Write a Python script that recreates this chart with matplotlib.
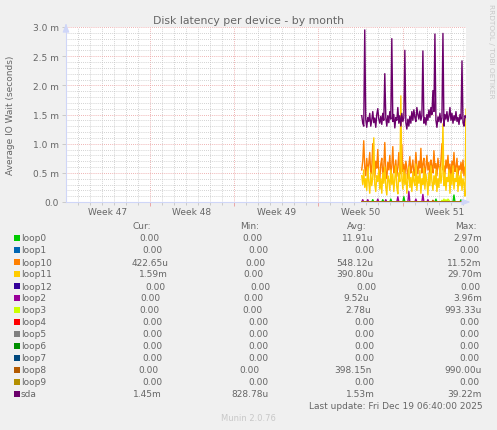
import numpy as np
import matplotlib
matplotlib.use("Agg")
import matplotlib.pyplot as plt
from matplotlib.ticker import FixedLocator, FuncFormatter
from matplotlib.transforms import blended_transform_factory

plt.rcParams['font.family'] = ['DejaVu Sans']

W, H = 497, 431

# --- data (milliseconds, one sample per 2 hours, last sample = last update) ---
sda = [1.48, 1.35, 1.30, 2.95, 1.42, 1.28, 1.45, 1.38, 1.52, 1.30,
       1.40, 1.55, 1.36, 1.44, 1.28, 1.50, 1.60, 1.42, 1.35, 1.47,
       1.33, 1.52, 1.40, 2.20, 1.45, 1.30, 1.48, 1.36, 1.55, 1.42,
       2.80, 1.38, 1.50, 1.27, 1.45, 1.40, 1.62, 1.35, 1.48, 1.30,
       1.52, 1.38, 1.44, 2.60, 1.36, 1.25, 1.42, 1.30, 1.47, 1.35,
       1.55, 1.40, 1.58, 1.45, 1.38, 1.62, 1.50, 1.42, 1.56, 1.40,
       1.48, 2.59, 1.35, 1.45, 1.32, 1.50, 1.40, 1.58, 1.45, 1.62,
       1.50, 1.91, 1.55, 2.88, 1.40, 1.28, 1.46, 1.38, 1.52, 1.36,
       1.44, 2.89, 1.30, 1.50, 1.42, 1.55, 1.38, 1.47, 1.62, 1.40,
       1.52, 1.35, 1.48, 1.40, 1.55, 1.38, 1.45, 1.33, 1.50, 1.42,
       2.42, 1.36, 1.30, 1.48, 1.45]

loop10 = [0.55, 0.70, 1.05, 0.60, 0.45, 0.75, 0.50, 0.65, 0.85, 0.48,
          0.60, 1.00, 0.55, 0.42, 0.70, 0.58, 0.90, 0.50, 0.38, 0.65,
          0.75, 0.45, 0.60, 1.02, 0.52, 0.40, 0.68, 0.55, 0.80, 0.47,
          0.62, 0.95, 0.50, 0.58, 0.72, 0.44, 0.60, 0.85, 0.48, 0.55,
          0.98, 0.52, 0.65, 0.45, 0.70, 0.58, 0.40, 0.62, 0.78, 0.50,
          0.60, 0.72, 0.45, 0.55, 0.85, 0.62, 0.48, 0.70, 0.58, 0.92,
          0.50, 0.65, 0.75, 0.45, 0.60, 0.80, 0.55, 0.68, 0.42, 0.72,
          0.62, 0.50, 0.88, 0.58, 0.66, 0.45, 0.75, 0.60, 0.52, 0.70,
          1.00, 0.55, 0.62, 0.48, 0.72, 0.58, 0.80, 0.50, 0.65, 0.42,
          0.70, 0.58, 0.85, 0.52, 0.60, 0.75, 0.45, 0.62, 0.55, 0.68,
          0.50, 0.72, 0.45, 0.60, 0.42]

loop11 = [0.45, 0.30, 0.55, 0.25, 0.40, 0.20, 0.60, 0.35, 0.15, 0.50,
          0.28, 0.42, 1.10, 0.30, 0.18, 0.45, 0.35, 0.55, 0.22, 0.40,
          0.15, 0.50, 0.32, 0.60, 0.25, 0.12, 0.45, 0.38, 0.20, 0.55,
          0.30, 0.48, 0.18, 0.40, 0.62, 0.25, 0.14, 0.50, 0.35, 1.82,
          0.40, 0.22, 0.55, 0.30, 0.48, 0.15, 0.38, 0.60, 0.25, 0.42,
          0.18, 0.52, 0.35, 0.28, 0.65, 0.20, 0.45, 0.32, 0.55, 0.15,
          0.40, 0.30, 0.58, 0.22, 0.48, 0.35, 0.12, 0.50, 0.28, 0.62,
          0.35, 0.20, 0.45, 0.30, 0.55, 0.18, 0.40, 0.25, 0.60, 0.32,
          0.45, 1.34, 0.28, 0.50, 0.20, 0.42, 0.35, 0.55, 0.15, 0.48,
          0.30, 0.62, 0.22, 0.40, 0.35, 0.58, 0.18, 0.45, 0.28, 0.52,
          0.20, 0.40, 0.30, 0.10, 1.59]

# sparse blips of the nearly idle devices: sample index -> value
loop0_idx = [11, 21, 29, 42, 74, 92, 99]
loop0_val = [0.04, 0.04, 0.05, 0.09, 0.05, 0.12, 0.04]
loop2_idx = [1, 6, 16, 24, 36, 47, 54, 61, 66]
loop2_val = [0.04, 0.04, 0.05, 0.04, 0.09, 0.18, 0.05, 0.13, 0.04]
loop3_idx = [80, 82, 84, 86, 87]
loop3_val = [0.03, 0.05, 0.04, 0.05, 0.03]
loop8_idx = [71]
loop8_val = [0.03]

n = len(sda)
step_days = 1 / 12
t = (np.arange(n) - (n - 1)) * step_days   # days before last update


def sparse(idx, val):
    s = np.zeros(n)
    s[idx] = val
    return s


idle = np.zeros(n)
series = {
    'loop0': sparse(loop0_idx, loop0_val),
    'loop1': idle,
    'loop10': np.array(loop10),
    'loop11': np.array(loop11),
    'loop12': idle,
    'loop2': sparse(loop2_idx, loop2_val),
    'loop3': sparse(loop3_idx, loop3_val),
    'loop4': idle,
    'loop5': idle,
    'loop6': idle,
    'loop7': idle,
    'loop8': sparse(loop8_idx, loop8_val),
    'loop9': idle,
    'sda': np.array(sda),
}
names = list(series.keys())
colors = ['#00CC00', '#0066B3', '#FF8000', '#FFCC00', '#330099', '#990099', '#CCFF00',
          '#FF0000', '#808080', '#008F00', '#00487D', '#B35A00', '#B38F00', '#6B006B']

cur = ['0.00', '0.00', '422.65u', '1.59m', '0.00', '0.00', '0.00', '0.00', '0.00',
       '0.00', '0.00', '0.00', '0.00', '1.45m']
mins = ['0.00'] * 13 + ['828.78u']
avg = ['11.91u', '0.00', '548.12u', '390.80u', '0.00', '9.52u', '2.78u', '0.00', '0.00',
       '0.00', '0.00', '398.15n', '0.00', '1.53m']
maxs = ['2.97m', '0.00', '11.52m', '29.70m', '0.00', '3.96m', '993.33u', '0.00', '0.00',
        '0.00', '0.00', '990.00u', '0.00', '39.22m']

weeks = ['Week 47', 'Week 48', 'Week 49', 'Week 50', 'Week 51']
# Sundays 00:00 relative to Fri Dec 19 06:40
week_lines = [-26.278, -19.278, -12.278, -5.278]
last_midnight = -0.278

# --- layout (pixel columns for the justified rrdtool legend) ---
cur_x = [139.3, 142.7, 131.7, 139, 145, 140.3, 139.3, 142.7, 142.7, 142.7, 142.7, 138.3, 142.7, 132.7]
min_x = [242, 248.3, 245, 243.3, 250, 243.3, 242.3, 248.3, 248.3, 248.3, 248.3, 239.3, 248.3, 231]
avg_x = [341.7, 354, 336.7, 336, 356, 343.3, 345, 354, 354, 354, 354, 334.3, 354, 346]
max_x = [453.3, 459.3, 446.7, 447.7, 460, 453.3, 444.3, 459.3, 459.3, 459.3, 459.3, 444.3, 459.3, 447.7]

FONT = '#666666'
fig = plt.figure(figsize=(W / 100, H / 100), dpi=100)
fig.patch.set_facecolor('#F0F0F0')


def fx(x):
    return x / W


def fy(y):
    return 1 - y / H


ax = fig.add_axes([fx(66), fy(203), 400 / W, 175 / H])
ax.set_facecolor('white')

for name, c in zip(names, colors):
    ax.plot(t, series[name], color=c, lw=1.0, zorder=3)

xmin = -33.25
ax.set_xlim(xmin, 0)
ax.set_ylim(0, 3.0)

days = np.arange(last_midnight, xmin, -1.0)
ax.xaxis.set_major_locator(FixedLocator(week_lines))
ax.xaxis.set_minor_locator(FixedLocator(days))
ax.yaxis.set_major_locator(FixedLocator(np.arange(0, 3.01, 0.5)))
ax.yaxis.set_minor_locator(FixedLocator(np.arange(0, 3.01, 0.1)))
ax.yaxis.set_major_formatter(FuncFormatter(lambda v, p: '0.0' if v == 0 else f'{v:.1f} m'))
ax.xaxis.set_major_formatter(FuncFormatter(lambda v, p: ''))

ax.grid(which='minor', color='#C4C4C4', lw=0.6, ls=(0, (1, 1.5)), zorder=1)
ax.grid(which='major', color='#EA9A9A', lw=0.6, ls=(0, (1, 1.5)), zorder=1)
ax.tick_params(which='both', direction='out', labelsize=6.5, labelcolor=FONT, pad=2)
ax.tick_params(axis='x', which='major', length=3, color='#EA9A9A', width=0.6)
ax.tick_params(axis='x', which='minor', length=2, color='#C4C4C4', width=0.6)
ax.tick_params(axis='y', which='major', length=3, color='#C4C4C4', width=0.6)
ax.tick_params(axis='y', which='minor', length=0)

for s in ['top', 'right']:
    ax.spines[s].set_visible(False)
for s in ['left', 'bottom']:
    ax.spines[s].set_color('#CFD6F8')
    ax.spines[s].set_linewidth(0.8)
    ax.spines[s].set_zorder(4)

# axis arrows
ax.annotate('', xy=(1.018, 0), xytext=(0.99, 0), xycoords='axes fraction',
            arrowprops=dict(arrowstyle='-|>,head_length=0.5,head_width=0.2', color='#CFD6F8', lw=0.8),
            annotation_clip=False)
ax.annotate('', xy=(0, 1.035), xytext=(0, 0.99), xycoords='axes fraction',
            arrowprops=dict(arrowstyle='-|>,head_length=0.5,head_width=0.2', color='#CFD6F8', lw=0.8),
            annotation_clip=False)

trans = blended_transform_factory(ax.transData, ax.transAxes)
for lab, wl in zip(weeks, [week_lines[0] - 3.5] + [w + 3.5 for w in week_lines]):
    ax.text(wl, -0.052, lab, transform=trans, ha='center', va='center', fontsize=6.5, color=FONT)

fig.text(fx(249), fy(21), 'Disk latency per device - by month', ha='center', va='center',
         fontsize=7.8, color=FONT)
fig.text(fx(11), fy(115), 'Average IO Wait (seconds)', rotation=90, ha='center', va='center',
         fontsize=6.5, color=FONT)
fig.text(fx(490.5), fy(51), 'RRDTOOL / TOBI OETIKER', rotation=270, ha='center', va='center',
         fontsize=5.3, color='#C8C8C8')

# legend table
for hx, h in zip([141.7, 249.5, 357, 466], ['Cur:', 'Min:', 'Avg:', 'Max:']):
    fig.text(fx(hx), fy(226.7), h, ha='center', va='center', fontsize=6.5, color=FONT)

for k, name in enumerate(names):
    y = 239 + 12 * k
    fig.patches.append(plt.Rectangle((fx(14), fy(y + 3)), 6 / W, 6 / H, transform=fig.transFigure,
                                     facecolor=colors[k], edgecolor='none'))
    fig.text(fx(20.7), fy(y), name, ha='left', va='center', fontsize=6.5, color=FONT)
    fig.text(fx(cur_x[k]), fy(y), cur[k], ha='left', va='center', fontsize=6.5, color=FONT)
    fig.text(fx(min_x[k]), fy(y), mins[k], ha='left', va='center', fontsize=6.5, color=FONT)
    fig.text(fx(avg_x[k]), fy(y), avg[k], ha='left', va='center', fontsize=6.5, color=FONT)
    fig.text(fx(max_x[k]), fy(y), maxs[k], ha='left', va='center', fontsize=6.5, color=FONT)

fig.text(fx(482.3), fy(407), 'Last update: Fri Dec 19 06:40:00 2025', ha='right', va='center',
         fontsize=6.5, color=FONT)
fig.text(fx(248), fy(419), 'Munin 2.0.76', ha='center', va='center', fontsize=6, color='#C8C8C8')

fig.savefig('out.png', dpi=100, facecolor=fig.get_facecolor())
